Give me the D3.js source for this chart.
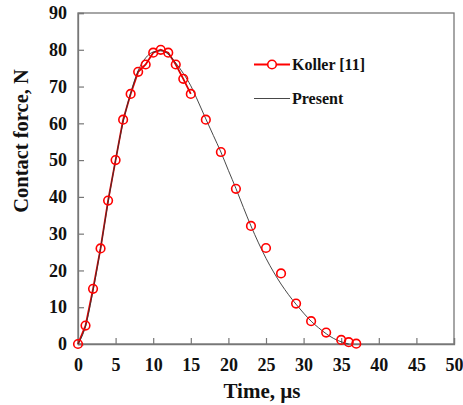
<!DOCTYPE html>
<html><head><meta charset="utf-8">
<script src="https://cdn.jsdelivr.net/npm/d3@7"></script>
<style>body{margin:0;background:#fff}svg{display:block}</style>
</head><body>
<svg id="c" width="463" height="405"></svg>
<script>
const kollerTime  = [0,1,2,3,4,5,6,7,8,9,10,11,12,13,14,15,17,19,21,23,25,27,29,31,33,35,36,37];
const kollerForce = [0,5,15,26,39,50,61,68,74,76,79.2,80,79.2,76,72.1,68,61,52.2,42.2,32.1,26.1,19.2,11,6.2,3.1,1.1,0.5,0.1];
const kollerLineEnd = 15;
const presentTime  = [0,1,2,3,4,5,6,7,8,9,10,11,12,13,14,15,16,17,18,19,20,21,22,23,24,25,26,27,28,29,30,31,32,33,34,35,36];
const presentForce = [0,4.8,14.5,26,38.5,50,60.3,68.2,74.3,77.8,79.4,79.7,78.8,76.4,73.6,70.2,65.8,61.2,56.7,52.2,47.2,42.3,37.1,32.1,27.5,23.3,19.6,16.3,13.4,10.8,8.4,6.2,4.4,2.8,1.5,0.6,0];
const xTicks = [0,5,10,15,20,25,30,35,40,45,50];
const yTicks = [0,10,20,30,40,50,60,70,80,90];
const legendLabels = ["Koller [11]", "Present"];

const svg = d3.select("#c");
const L = 78, R = 454, T = 13, B = 344;
const x = d3.scaleLinear().domain([0,50]).range([L,R]);
const y = d3.scaleLinear().domain([0,90]).range([B,T]);
const font = "'Liberation Serif','Times New Roman',serif";
const axisCol = "#777";

// frame
svg.append("rect").attr("x",L).attr("y",T).attr("width",R-L).attr("height",B-T)
  .attr("fill","none").attr("stroke",axisCol).attr("stroke-width",1.3);

const xAxis = svg.append("g").attr("transform",`translate(0,${B})`)
  .call(d3.axisBottom(x).tickValues(xTicks).tickSize(-6).tickPadding(14).tickFormat(d3.format("d")));
const yAxis = svg.append("g").attr("transform",`translate(${L},0)`)
  .call(d3.axisLeft(y).tickValues(yTicks).tickSize(-6).tickPadding(11).tickFormat(d3.format("d")));
[xAxis,yAxis].forEach(g=>{
  g.select(".domain").attr("stroke",axisCol).attr("stroke-width",1.3);
  g.selectAll(".tick line").attr("stroke",axisCol).attr("stroke-width",1.2);
  g.selectAll("text").attr("font-family",font).attr("font-weight","bold")
    .attr("font-size",18).attr("fill","#111");
});

const presentData = presentTime.map((t,i)=>[t,presentForce[i]]);
const kollerData = kollerTime.map((t,i)=>[t,kollerForce[i]]);
const line = d3.line().x(d=>x(d[0])).y(d=>y(d[1]));
const curve = d3.line().x(d=>x(d[0])).y(d=>y(d[1])).curve(d3.curveMonotoneX);

svg.append("path").datum(kollerData.filter(d=>d[0]<=kollerLineEnd))
  .attr("d",line).attr("fill","none").attr("stroke","#e00000").attr("stroke-width",1.8);
svg.append("path").datum(presentData)
  .attr("d",curve).attr("fill","none").attr("stroke","#333").attr("stroke-width",0.9);

svg.append("g").selectAll("circle").data(kollerData).join("circle")
  .attr("cx",d=>x(d[0])).attr("cy",d=>y(d[1])).attr("r",4.3)
  .attr("fill","none").attr("stroke","#ff0000").attr("stroke-width",1.6);

// legend
const lg = svg.append("g");
lg.append("line").attr("x1",254).attr("x2",290).attr("y1",64.5).attr("y2",64.5)
  .attr("stroke","#ff0000").attr("stroke-width",1.8);
lg.append("circle").attr("cx",272).attr("cy",64.5).attr("r",4.3)
  .attr("fill","#fff").attr("stroke","#ff0000").attr("stroke-width",1.6);
lg.append("line").attr("x1",254).attr("x2",290).attr("y1",98.5).attr("y2",98.5)
  .attr("stroke","#333").attr("stroke-width",0.9);
lg.selectAll("text").data(legendLabels).join("text")
  .attr("x",292).attr("y",(d,i)=>i?104:70)
  .attr("font-family",font).attr("font-weight","bold").attr("font-size",16).attr("fill","#111")
  .text(d=>d);

// axis titles
svg.append("text").attr("x",262).attr("y",398).attr("text-anchor","middle")
  .attr("font-family",font).attr("font-weight","bold").attr("font-size",21).attr("fill","#111")
  .text("Time, µs");
svg.append("text").attr("transform","translate(28,141) rotate(-90)").attr("text-anchor","middle")
  .attr("font-family",font).attr("font-weight","bold").attr("font-size",20.5).attr("fill","#111")
  .text("Contact force, N");
</script>
</body></html>
